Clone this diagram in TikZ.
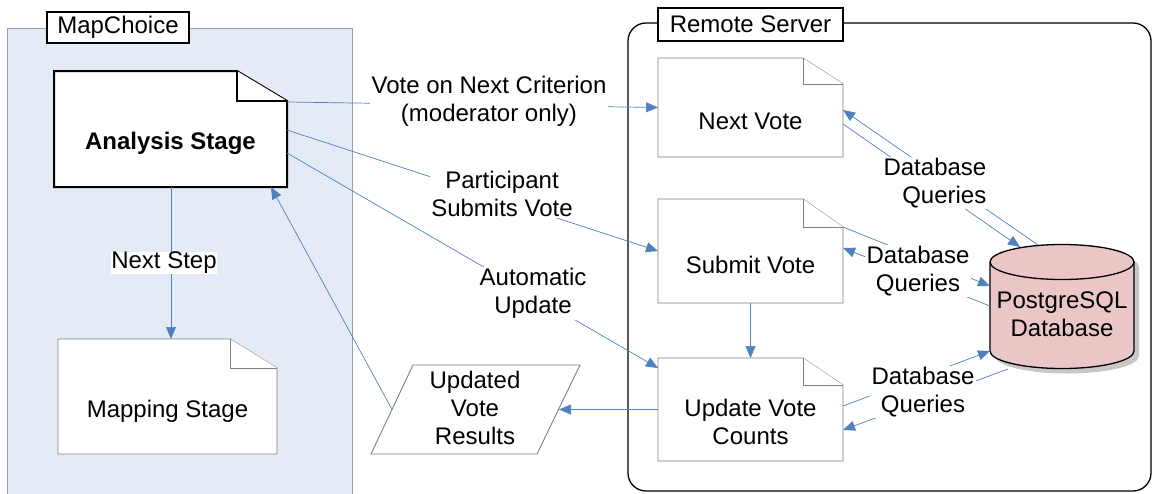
\documentclass[tikz,border=0pt]{standalone}
\usepackage{fontspec}
\setmainfont{Liberation Sans}
\usetikzlibrary{arrows.meta}
\definecolor{conncol}{RGB}{79,129,189}
\definecolor{panelblue}{RGB}{228,235,246}
\definecolor{panelgray}{RGB}{150,160,175}
\definecolor{docgray}{RGB}{128,128,128}
\definecolor{dbfill}{RGB}{234,198,198}
% name, fold width, fold height, style
\newcommand\docshape[4]{%
  \filldraw[#4] (#1.north west) -- ([xshift=-#2]#1.north east) -- ([yshift=-#3]#1.north east) -- (#1.south east) -- (#1.south west) -- cycle;
  \draw[#4] ([xshift=-#2]#1.north east) |- ([yshift=-#3]#1.north east);
}
\newcommand\cylpath{(990,262) -- (990,351) arc[start angle=180,end angle=360,x radius=72pt,y radius=17.5pt] -- (1134,262) arc[start angle=0,end angle=180,x radius=72pt,y radius=17.5pt] -- cycle}
\begin{document}
\begin{tikzpicture}[x=1pt,y=-1pt,
  every node/.style={font=\fontsize{24}{28}\selectfont},
  shapebox/.style={draw=none,fill=none,inner sep=0pt,outer sep=0pt},
  txt/.style={align=center,inner sep=0pt},
  lbl/.style={align=center,fill=white,inner sep=1.5pt},
  tag/.style={draw=black,line width=1.2pt,fill=white,inner sep=0pt},
  docline/.style={draw=docgray,line width=0.9pt,fill=white},
  docbold/.style={draw=black,line width=2pt,fill=white},
  conn/.style={draw=conncol,line width=0.7pt,-{Triangle[length=12pt,width=10pt]}}]
\useasboundingbox (0,0) rectangle (1153,493);
\clip (0,0) rectangle (1153,493);

% panels
\draw[draw=panelgray,fill=panelblue,line width=0.8pt] (7,28) rectangle (352,505);
\node[tag,minimum width=142,minimum height=31] (mapchoice) at (118,27.5) {MapChoice};
\draw[black,line width=1.3pt,fill=white,rounded corners=18pt] (628,23) rectangle (1151,491);
\node[tag,minimum width=185,minimum height=33] (remote) at (750.5,24.5) {Remote Server};

% document shapes
\node[shapebox,minimum width=233,minimum height=116] (an) at (170.5,129) {};
\docshape{an}{50pt}{30pt}{docbold}
\node[shapebox,minimum width=219,minimum height=115] (mp) at (167.5,396.5) {};
\docshape{mp}{47pt}{29pt}{docline}
\node[shapebox,minimum width=185,minimum height=99] (nv) at (750.5,107.5) {};
\docshape{nv}{40pt}{26pt}{docline}
\node[shapebox,minimum width=185,minimum height=104] (sv) at (750.5,251) {};
\docshape{sv}{40pt}{28pt}{docline}
\node[shapebox,minimum width=185,minimum height=103] (uv) at (750.5,409.5) {};
\docshape{uv}{40pt}{27pt}{docline}

% parallelogram
\node[shapebox,minimum width=209,minimum height=89] (ur) at (475.5,409.5) {};
\draw[docline] (413,365) -- (580,365) -- (537,454) -- (371,454) -- cycle;

% database cylinder
\node[shapebox,minimum width=144,minimum height=124] (db) at (1062,307) {};
\fill[black,opacity=0.22,xshift=5pt,yshift=-5pt] \cylpath;
\filldraw[fill=dbfill,draw=black,line width=1.3pt] \cylpath;
\draw[black,line width=1.3pt] (990,262) arc[start angle=180,end angle=360,x radius=72pt,y radius=17.5pt];

% texts
\node[txt,font=\fontsize{24}{28}\selectfont\bfseries] (ant) at (170.5,143.5) {Analysis Stage};
\node[txt] (mpt) at (167.5,411) {Mapping Stage};
\node[txt] (nvt) at (750.5,121) {Next Vote};
\node[txt] (svt) at (750.5,265) {Submit Vote};
\node[txt] (uvt) at (750.5,422) {Update Vote\\Counts};
\node[txt] (urt) at (475,408) {Updated\\Vote\\Results};
\node[txt] (dbt) at (1062,314.5) {PostgreSQL\\Database};

% connectors
\draw[conn] ([yshift=27pt]an.east) -- (nv.west);
\draw[conn] ([yshift=-1pt]an.east) -- (sv.west);
\draw[conn] ([yshift=-24pt]an.east) -- ([yshift=41.5pt]uv.west);
\draw[conn] ([xshift=21pt]ur.west) -- ([xshift=-16pt]an.south east);
\draw[conn] (uv.west) -- ([xshift=-21pt]ur.east);
\draw[conn] (sv.south) -- (uv.north);
\draw[conn] ([xshift=0.5pt]an.south) -- ([xshift=3.5pt]mp.north);
\draw[conn] ([xshift=-24pt]db.north) -- ([yshift=-2.5pt]nv.east);
\draw[conn] ([yshift=-16.5pt]nv.east) -- ([xshift=-42pt,yshift=-2pt]db.north);
\draw[conn] ([yshift=24pt]sv.east) -- ([yshift=21pt]db.west);
\draw[conn] ([yshift=1pt]db.west) -- ([yshift=3pt]sv.east);
\draw[conn] ([yshift=3.5pt]uv.east) -- ([yshift=-44pt]db.west);
\draw[conn] ([xshift=-54pt]db.south) -- ([yshift=-20.5pt]uv.east);

% connector labels
\node[lbl] (l1) at (489,101) {Vote on Next Criterion\\(moderator only)};
\node[lbl] (l2) at (502,194) {Participant\\Submits Vote};
\node[lbl] (l3) at (533,293.5) {Automatic\\Update};
\node[lbl,inner sep=0.5pt] (l4) at (164,263) {Next Step};
\node[lbl,align=right,anchor=east] (l5) at (988,183) {Database\\Queries};
\node[lbl] (l6) at (918,271) {Database\\Queries};
\node[lbl] (l7) at (923,392) {Database\\Queries};
\end{tikzpicture}
\end{document}
